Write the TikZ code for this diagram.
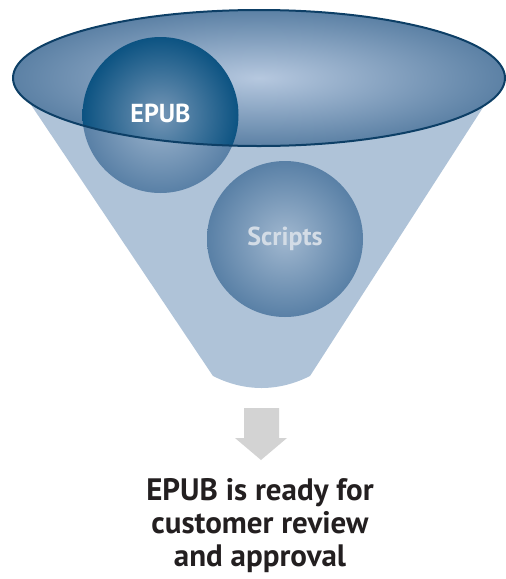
\documentclass[tikz,border=0pt]{standalone}
\usepackage{fontspec}
\setmainfont{PT Sans}
\usetikzlibrary{shapes.geometric}
\definecolor{funnelbody}{HTML}{AFC3D8}
\definecolor{rimlight}{HTML}{B6C8DF}
\definecolor{rimdark}{HTML}{5C81A5}
\definecolor{rimline}{HTML}{0D3F66}
\definecolor{ballcore}{HTML}{7596B6}
\definecolor{balledge}{HTML}{0C5382}
\definecolor{ballcorelow}{HTML}{A0B7CF}
\definecolor{balledgelow}{HTML}{5980A6}
\definecolor{arrowgray}{HTML}{D3D3D3}
\definecolor{captiontext}{HTML}{231F20}
\definecolor{softwhite}{HTML}{D3DCE6}
\tikzset{
  ball/.style={circle, minimum size=156, inner sep=0pt, text=white,
    font=\bfseries\fontsize{26}{30}\selectfont},
  lowball/.style={ball, inner color=ballcorelow, outer color=balledgelow},
  rimshape/.style={ellipse, minimum width=492, minimum height=136, inner sep=0pt},
  caption/.style={align=center, text=captiontext,
    font=\bfseries\fontsize{31}{33}\selectfont},
}
\begin{document}
\begin{tikzpicture}[x=1pt,y=-1pt]
\useasboundingbox (0,0) rectangle (506,579);
% funnel body
\fill[funnelbody] (13,78) -- (213,376)
  .. controls (245,392) and (278,392) .. (310,376) -- (502,78) -- cycle;
% balls seen through the funnel wall
\node[lowball] (epublow) at (160.5,115) {};
\node[lowball, text=softwhite] (scripts) at (285,239) {Scripts};
% opening of the funnel
\node[rimshape, inner color=rimlight, outer color=rimdark] (rim) at (259,78) {};
% part of the first ball seen through the opening
\begin{scope}
  \clip (259,78) ellipse [x radius=246, y radius=68];
  \node[ball, inner color=ballcore, outer color=balledge] (epub) at (160.5,115) {};
\end{scope}
\node[rimshape, draw=rimline, line width=2pt] (rimedge) at (259,78) {};
\node[ball, text=white] (epublabel) at (160.5,113) {EPUB};
% down arrow
\coordinate (tip) at (261,460);
\fill[arrowgray] (244,408) -- (279,408) -- (279,438) -- (287,438) -- (tip)
  -- (235,438) -- (244,438) -- cycle;
% caption
\node[caption] (result) at (260,526) {EPUB is ready for\\customer review\\and approval};
\end{tikzpicture}
\end{document}
